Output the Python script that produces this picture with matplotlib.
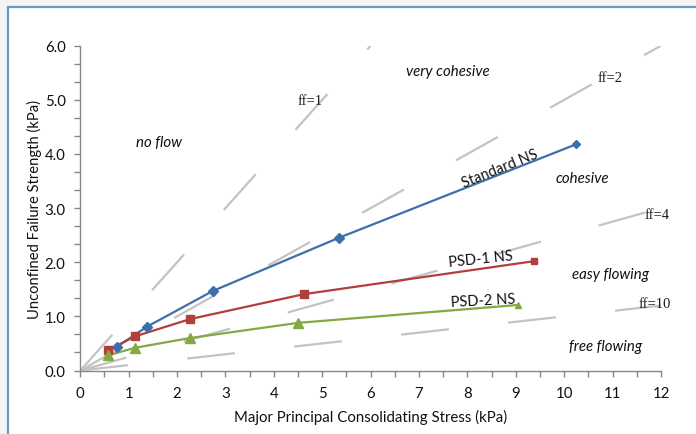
import matplotlib
matplotlib.use("Agg")
import matplotlib.pyplot as plt
from matplotlib.ticker import MultipleLocator, FixedLocator
from matplotlib.patches import Rectangle
import numpy as np

# ---- data ----
std_x = [0.76, 1.38, 2.74, 5.34, 10.25]
std_y = [0.44, 0.81, 1.47, 2.45, 4.18]
psd1_x = [0.58, 1.13, 2.27, 4.62, 9.38]
psd1_y = [0.38, 0.63, 0.95, 1.41, 2.02]
psd2_x = [0.58, 1.13, 2.27, 4.50, 9.04]
psd2_y = [0.28, 0.42, 0.60, 0.88, 1.21]
ff_values = [1, 2, 4, 10]
x_ticks = list(range(0, 13))
y_ticks = [0.0, 1.0, 2.0, 3.0, 4.0, 5.0, 6.0]

plt.rcParams['lines.scale_dashes'] = False
plt.rcParams['font.family'] = ['Lato', 'DejaVu Sans']

fig = plt.figure(figsize=(6.96, 4.35), dpi=100)
fig.patch.set_facecolor('#F4F4F4')
# white panel with frame
W, H = 696, 435
fig.patches.append(Rectangle((7.5 / W, -0.1), 1.2, (435 - 7.5) / H + 0.1,
                             transform=fig.transFigure, facecolor='white',
                             edgecolor='#6A9BBE', linewidth=1.6, zorder=-10))

ax = fig.add_axes([80.3 / W, (435 - 371.5) / H, (661 - 80.3) / W, (371.5 - 46.7) / H])
ax.set_facecolor('none')
ax.set_xlim(0, 12)
ax.set_ylim(0, 6)

# flow function lines
for ff in ff_values:
    xe = min(12.0, 6.0 * ff)
    ax.plot([0, xe], [0, xe / ff], color='#C3C3C3', lw=1.6,
            dashes=(34.5, 43.0), solid_capstyle='butt', dash_capstyle='butt', zorder=1)

series = [
    (std_x, std_y, '#3D6FAA', 'D', 5.5, 4.0),
    (psd1_x, psd1_y, '#B23F3C', 's', 6.0, 5.0),
    (psd2_x, psd2_y, '#86A843', '^', 7.0, 5.0),
]
for xs, ys, c, m, ms, ms_end in series:
    ax.plot(xs, ys, color=c, lw=1.6, zorder=3)
    ax.plot(xs[:-1], ys[:-1], ls='none', marker=m, ms=ms, color=c, zorder=4)
    ax.plot(xs[-1:], ys[-1:], ls='none', marker=m, ms=ms_end, color=c, zorder=4)

# spines and ticks
for s in ['top', 'right']:
    ax.spines[s].set_visible(False)
for s in ['left', 'bottom']:
    ax.spines[s].set_color('#868686')
    ax.spines[s].set_linewidth(1.0)
ax.xaxis.set_major_locator(FixedLocator(x_ticks))
ax.xaxis.set_minor_locator(MultipleLocator(0.5))
ax.yaxis.set_major_locator(FixedLocator(y_ticks))
ax.yaxis.set_minor_locator(MultipleLocator(1 / 3))
ax.set_xticklabels([str(v) for v in x_ticks])
ax.set_yticklabels([f"{v:.1f}" for v in y_ticks])
ax.tick_params(which='both', direction='out', length=4.5, width=1.0, color='#868686',
               labelsize=10.8, labelcolor='#111111')
ax.tick_params(axis='y', pad=6)
ax.tick_params(axis='x', pad=7)
ax.set_xlabel('Major Principal Consolidating Stress (kPa)', fontsize=10.8, color='#111111', labelpad=6)
ax.set_ylabel('Unconfined Failure Strength (kPa)', fontsize=10.6, color='#111111', labelpad=2)

# region labels
it = dict(fontsize=10.8, style='italic', color='#111111', ha='center', va='center')
ax.text(7.6, 5.54, 'very cohesive', **it)
ax.text(1.63, 4.22, 'no flow', **it)
ax.text(10.38, 3.56, 'cohesive', **it)
ax.text(10.96, 1.78, 'easy flowing', **it)
ax.text(10.86, 0.45, 'free flowing', **it)

serif = dict(fontsize=10.5, family='Liberation Serif', color='#1A1A1A', ha='center', va='center')
ax.text(4.75, 4.98, 'ff=1', **serif)
ax.text(10.94, 5.41, 'ff=2', **serif)
ax.text(11.91, 2.89, 'ff=4', **serif)
ax.text(11.87, 1.23, 'ff=10', **serif)

sl = dict(fontsize=10.5, color='#111111', ha='center', va='center', rotation_mode='anchor')
ax.text(8.67, 3.74, 'Standard NS', rotation=22, **sl)
ax.text(8.28, 2.06, 'PSD-1 NS', rotation=6, **sl)
ax.text(8.32, 1.29, 'PSD-2 NS', rotation=3, **sl)

fig.savefig('out.png', dpi=100, facecolor=fig.get_facecolor())
